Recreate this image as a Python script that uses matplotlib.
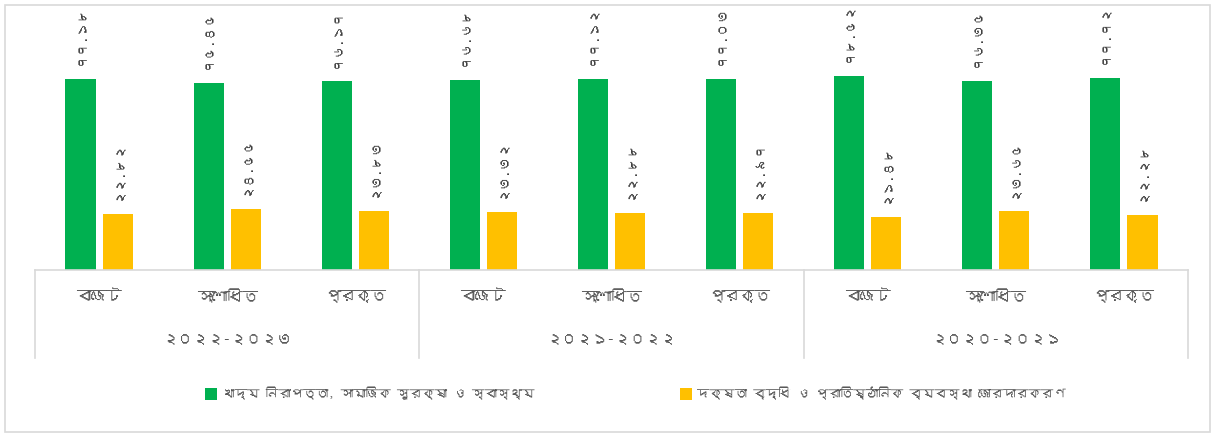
import matplotlib
matplotlib.use("Agg")
import matplotlib.pyplot as plt
from matplotlib import font_manager
from matplotlib.ft2font import FT2Font
from matplotlib.patches import Rectangle
import matplotlib.transforms as mtrans
import numpy as np

# ---------------- data ----------------
groups = ["২০২২-২০২৩", "২০২১-২০২২", "২০২০-২০২১"]
categories = ["বাজেট", "সংশোধিত", "প্রকৃত"]
series_names = ["খাদ্য নিরাপত্তা, সামাজিক সুরক্ষা ও স্বাস্থ্য",
                "দক্ষতা বৃদ্ধি ও প্রাতিষ্ঠানিক ব্যবস্থা জোরদারকরণ"]
food_security = [77.18, 75.45, 76.17, 76.68, 77.12, 77.03, 78.52, 76.35, 77.72]
capacity = [22.82, 24.55, 23.83, 23.32, 22.88, 22.97, 21.48, 23.65, 22.28]
colors = ["#00B050", "#FFC000"]

# ---------------- font with Bengali glyphs, if any ----------------
beng = None
for f in font_manager.fontManager.ttflist:
    try:
        ft = FT2Font(f.fname)
        cm = ft.get_charmap()
        if 0x09AC in cm and 0x09E8 in cm:
            beng = f.name
            break
    except Exception:
        pass
fams = ([beng] if beng else []) + ["DejaVu Sans"]
plt.rcParams['font.family'] = fams

bn_digits = str.maketrans("0123456789", "০১২৩৪৫৬৭৮৯")
def bn(v):
    return f"{v:.2f}".translate(bn_digits)

W, H = 1216, 436
fig = plt.figure(figsize=(W / 100, H / 100), dpi=100)
fig.patches.append(Rectangle((5 / W, 4 / H), 1205 / W, 427 / H, transform=fig.transFigure,
                             fill=False, edgecolor="#D9D9D9", lw=1.2))

left, right, base, top = 35, 1188, 270, 5
ax = fig.add_axes([left / W, (H - base) / H, (right - left) / W, (base - top) / H])
n = len(food_security)
x = np.arange(n)
bw = 0.235
off = 0.145
ax.bar(x - off, food_security, bw, color=colors[0])
ax.bar(x + off, capacity, bw, color=colors[1])
ax.set_xlim(-0.5, n - 0.5)
ax.set_ylim(0, (base - top) / 2.475)
for s in ["top", "right", "left"]:
    ax.spines[s].set_visible(False)
ax.spines["bottom"].set_color("#D9D9D9")
ax.spines["bottom"].set_linewidth(1.2)
ax.set_yticks([])
ax.set_xticks([])

tc = "#595959"
for i in range(n):
    ax.annotate(bn(food_security[i]), (x[i] - off, food_security[i]), xytext=(0, 10),
                textcoords="offset points", rotation=90, ha="center", va="bottom",
                fontsize=9.5, color="#404040")
    ax.annotate(bn(capacity[i]), (x[i] + off, capacity[i]), xytext=(0, 10),
                textcoords="offset points", rotation=90, ha="center", va="bottom",
                fontsize=9.5, color="#404040")

# category and group labels
tr = mtrans.blended_transform_factory(ax.transData, fig.transFigure)
def fy(py):
    return (H - py) / H
def fx(px):
    return px / W
ng = len(groups)
nc = len(categories)
for g in range(ng):
    for c in range(nc):
        ax.text(g * nc + c, fy(297), categories[c], transform=tr, ha="center", va="center",
                fontsize=11, color=tc)
    ax.text(g * nc + (nc - 1) / 2, fy(340), groups[g], transform=tr, ha="center", va="center",
            fontsize=11, color=tc)
for g in range(ng + 1):
    xv = g * nc - 0.5
    ax.plot([xv, xv], [fy(270), fy(358)], transform=tr, color="#D9D9D9", lw=1.2, clip_on=False)

# legend (manual placement)
leg_x = [205, 680]
for k in range(2):
    fig.patches.append(Rectangle((fx(leg_x[k]), fy(400)), 12 / W, 12 / H,
                                 transform=fig.transFigure, facecolor=colors[k],
                                 edgecolor="none"))
    fig.text(fx(leg_x[k] + 17), fy(393.5), series_names[k], ha="left", va="center",
             fontsize=9, color=tc)

fig.savefig("out.png", dpi=100)
